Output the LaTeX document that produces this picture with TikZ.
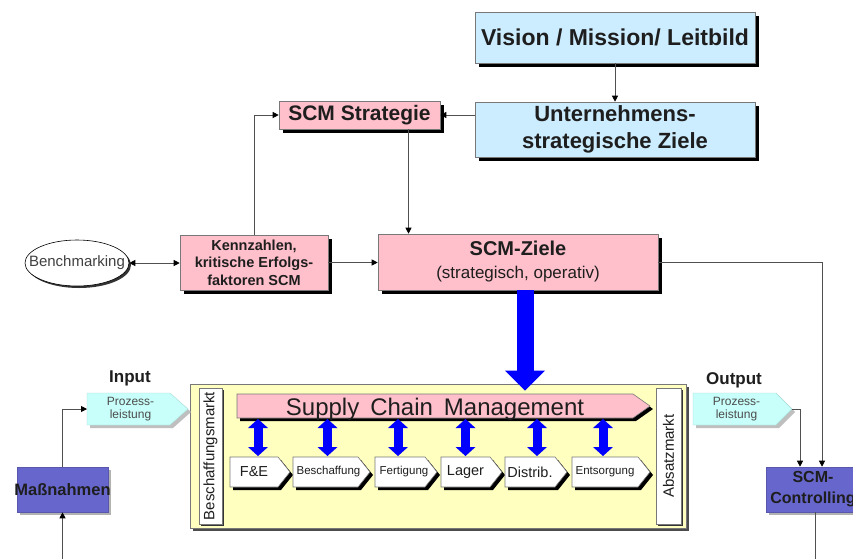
\documentclass[tikz,border=0pt]{standalone}
\usepackage{fontspec}
\setmainfont{Liberation Sans}
\usetikzlibrary{arrows.meta,shadows,shapes.geometric,calc}

\definecolor{skyfill}{RGB}{204,236,255}
\definecolor{rosefill}{RGB}{255,192,203}
\definecolor{creamfill}{RGB}{255,255,192}
\definecolor{aquafill}{RGB}{200,255,250}
\definecolor{violetfill}{RGB}{102,102,204}
\definecolor{inkgray}{RGB}{30,30,30}
\definecolor{edgegray}{RGB}{120,120,120}
\definecolor{wiregray}{RGB}{80,80,80}

\newcommand\fsz[2]{\fontsize{#1}{#2}\selectfont}

% pentagon arrow panel:
% #1 name, #2 left x, #3 tip x, #4 top y, #5 bottom y, #6 tip length,
% #7 body style, #8 text node style, #9 text
\newcommand\arrowpanel[9]{%
  \fill[pshadow] ({#2+3},{#4+3}) -- ({#3-#6+3},{#4+3}) -- ({#3+3},{(#4+#5)/2+3})
     -- ({#3-#6+3},{#5+3}) -- ({#2+3},{#5+3}) -- cycle;
  \filldraw[#7] (#2,#4) -- ({#3-#6},#4) -- (#3,{(#4+#5)/2}) -- ({#3-#6},#5)
     -- (#2,#5) -- cycle;
  \node[inner sep=0,align=center,text=inkgray,#8] (#1) at ({(#2+#3-#6)/2},{(#4+#5)/2}) {#9};
  \coordinate (#1-w) at (#2,{(#4+#5)/2});
  \coordinate (#1-e) at (#3,{(#4+#5)/2});
  \coordinate (#1-n) at ({(#2+#3-#6)/2},#4);
  \coordinate (#1-s) at ({(#2+#3-#6)/2},#5);
}

\begin{document}
\begin{tikzpicture}[x=1pt,y=-1pt,
  pshadow/.style={fill=black},
  box/.style={draw=edgegray,line width=0.6pt,inner sep=0,align=center,text=inkgray},
  deepshadow/.style={drop shadow={shadow xshift=4pt,shadow yshift=-4pt,fill=black,opacity=1}},
  thinshadow/.style={drop shadow={shadow xshift=2pt,shadow yshift=-2pt,fill=black!80,opacity=1}},
  softshadow/.style={drop shadow={shadow xshift=3pt,shadow yshift=-3pt,fill=black!30,opacity=1}},
  conn/.style={draw=wiregray,line width=0.8pt,-{Triangle[length=6pt,width=6pt,color=black]}},
  twoway/.style={draw=wiregray,line width=0.8pt,{Triangle[length=6pt,width=6pt,color=black]}-{Triangle[length=6pt,width=6pt,color=black]}},
  wire/.style={draw=wiregray,line width=0.8pt},
  bigarrow/.style={draw=blue,line width=17pt,-{Triangle[width=40pt,length=20pt,line width=0pt]}},
  duplex/.style={draw=blue,line width=9pt,{Triangle[width=20pt,length=9pt,line width=0pt]}-{Triangle[width=20pt,length=9pt,line width=0pt]}},
]
\path[use as bounding box] (0,0) rectangle (853,558);
\clip (0,0) rectangle (853,558);

% upper planning chain
\node[box,deepshadow,fill=skyfill,minimum width=280pt,minimum height=51pt,
      font=\bfseries\fsz{23}{26}] (vision) at (615,37.5) {Vision / Mission/ Leitbild};
\node[box,deepshadow,fill=skyfill,minimum width=280pt,minimum height=55pt,
      font=\bfseries\fsz{22}{27}] (unt) at (615,129.5) {Unternehmens-\\strategische Ziele};
\node[box,deepshadow,fill=rosefill,minimum width=161pt,minimum height=28pt,
      font=\bfseries\fsz{21}{24}] (strat) at (359.5,115) {SCM Strategie};
\node[box,deepshadow,fill=rosefill,minimum width=280pt,minimum height=56pt,
      font=\fsz{20}{23}] (ziele) at (518,262)
      {\textbf{SCM-Ziele}\\{\fsz{17}{23}(strategisch, operativ)}};
\node[box,deepshadow,fill=rosefill,minimum width=148pt,minimum height=55pt,
      font=\bfseries\fsz{14.5}{17.5}] (kenn) at (254,262.5)
      {Kennzahlen,\\kritische Erfolgs-\\faktoren SCM};
\node[ellipse,draw=black,fill=white,line width=0.6pt,minimum width=104pt,minimum height=46pt,
      inner sep=0,text=black!75,font=\fsz{15}{18},thinshadow] (bench) at (77,263)
      {\makebox[0pt]{Benchmarking}};

% process frame
\node[draw=edgegray,fill=creamfill,line width=0.8pt,minimum width=496pt,minimum height=144pt,
      drop shadow={shadow xshift=3pt,shadow yshift=-3pt,fill=black!70,opacity=1}] (frame) at (438,456) {};
\node[box,fill=white,thinshadow,minimum width=136pt,minimum height=23pt,rotate=90,
      font=\fsz{15}{18}] (buy) at (210.5,456) {Beschaffungsmarkt};
\node[box,fill=white,thinshadow,minimum width=136pt,minimum height=25pt,rotate=90,
      font=\fsz{15}{18}] (sell) at (668.5,456) {Absatzmarkt};

\arrowpanel{scm}{237}{650}{394}{418}{17}{fill=rosefill,draw=edgegray,line width=0.6pt}
  {font=\fsz{24}{26},yshift=-3pt}{Supply\hspace{11pt}Chain\hspace{11pt}Management}
\arrowpanel{fe}{230}{290}{457}{487}{12}{fill=white,draw=edgegray,line width=0.6pt}
  {font=\fsz{14.5}{16}}{F\&E}
\arrowpanel{bes}{293}{370}{457}{487}{12}{fill=white,draw=edgegray,line width=0.6pt}
  {font=\fsz{11.5}{13},xshift=3pt}{Beschaffung}
\arrowpanel{fer}{375}{437}{457}{487}{12}{fill=white,draw=edgegray,line width=0.6pt}
  {font=\fsz{11.5}{13},xshift=4pt}{Fertigung}
\arrowpanel{lag}{441}{502}{457}{487}{12}{fill=white,draw=edgegray,line width=0.6pt}
  {font=\fsz{14.5}{16}}{Lager}
\arrowpanel{dis}{505}{567}{457}{487}{12}{fill=white,draw=edgegray,line width=0.6pt}
  {font=\fsz{14.5}{16}}{Distrib.}
\arrowpanel{ent}{572}{650}{457}{487}{12}{fill=white,draw=edgegray,line width=0.6pt}
  {font=\fsz{11.5}{13}}{Entsorgung}

\foreach \p/\dx in {fe/4,bes/2,fer/-2,lag/0,dis/7,ent/-2}
  \draw[duplex] ($(\p-n |- scm-s)+(\dx,1)$) -- ($(\p-n)+(\dx,-1)$);

% input and output of the process
\begin{scope}[pshadow/.style={fill=black!25}]
\arrowpanel{in}{87}{188}{393}{425}{18}{fill=aquafill,draw=aquafill!85!black,line width=0.4pt}
  {font=\fsz{12}{13},text=black!70,xshift=2pt}{Prozess-\\leistung}
\arrowpanel{out}{693}{792}{393}{425}{16}{fill=aquafill,draw=aquafill!85!black,line width=0.4pt}
  {font=\fsz{12}{13},text=black!70,xshift=2pt}{Prozess-\\leistung}
\end{scope}
\node[font=\bfseries\fsz{17}{20},text=inkgray] (inlabel) at (130,378) {Input};
\node[font=\bfseries\fsz{17}{20},text=inkgray] (outlabel) at (734,380) {Output};

\node[box,fill=violetfill,draw=violetfill!85!black,softshadow,minimum width=91pt,minimum height=45pt,
      font=\bfseries\fsz{16.5}{20}] (mass) at (62.5,489.5) {\makebox[0pt]{Maßnahmen}};
\node[box,fill=violetfill,draw=violetfill!85!black,softshadow,minimum width=94pt,minimum height=45pt,
      font=\bfseries\fsz{16}{21}] (ctrl) at (813,489.5) {SCM-\\\makebox[0pt]{Controlling}};

% connectors
\draw[conn] (vision) -- (unt);
\draw[conn] (strat.east -| unt.west) -- (strat.east);
\draw[conn] (kenn.north) |- (strat.west);
\coordinate (sdrop) at ($(strat.south)+(49,0)$);
\draw[conn] (sdrop) -- (sdrop |- ziele.north);
\draw[conn] (kenn.east) -- (kenn.east -| ziele.west);
\draw[twoway] (bench.east) -- (bench.east -| kenn.west);

\coordinate (drop) at ($(ziele.south)+(7,0)$);
\draw[bigarrow] (drop) -- ($(drop |- frame.north)+(0,7)$);

\coordinate (ctrlA) at ($(ctrl.north)+(9,0)$);
\coordinate (ctrlB) at ($(ctrl.north)+(-13,0)$);
\draw[conn] (ziele.east) -| (ctrlA);
\draw[conn] (out-e) -| (ctrlB);
\draw[conn] (mass.north) |- (in-w);
\coordinate (floor) at (0,560);
\draw[conn] (mass.south |- floor) -- (mass.south);
\coordinate (cdown) at ($(ctrl.south)+(2,0)$);
\draw[wire] (cdown) -- (cdown |- floor);
\end{tikzpicture}
\end{document}
